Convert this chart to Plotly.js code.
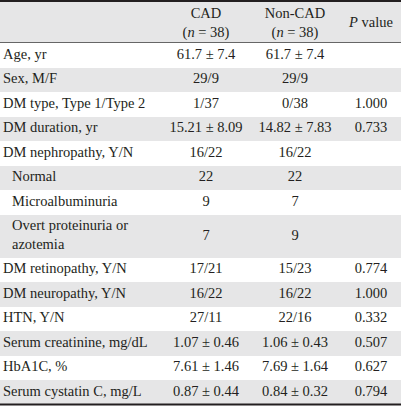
<!DOCTYPE html>
<html>
<head>
<meta charset="utf-8">
<script src="https://cdn.plot.ly/plotly-3.0.1.min.js"></script>
<style>html,body{margin:0;padding:0;background:#fff;}#chart{width:401px;height:407px;}</style>
</head>
<body>
<div id="chart"></div>
<script>
// ---- data ----
var headers = ['CAD<br>(<i>n</i> = 38)', 'Non-CAD<br>(<i>n</i> = 38)', '<i>P</i> value'];
var variables = ['Age, yr', 'Sex, M/F', 'DM type, Type 1/Type 2', 'DM duration, yr', 'DM nephropathy, Y/N',
  'Normal', 'Microalbuminuria', 'Overt proteinuria or<br>azotemia',
  'DM retinopathy, Y/N', 'DM neuropathy, Y/N', 'HTN, Y/N', 'Serum creatinine, mg/dL', 'HbA1C, %', 'Serum cystatin C, mg/L'];
var level = [0, 0, 0, 0, 0, 1, 1, 1, 0, 0, 0, 0, 0, 0];
var cad = ['61.7 ± 7.4', '29/9', '1/37', '15.21 ± 8.09', '16/22', '22', '9', '7', '17/21', '16/22', '27/11', '1.07 ± 0.46', '7.61 ± 1.46', '0.87 ± 0.44'];
var nonCad = ['61.7 ± 7.4', '29/9', '0/38', '14.82 ± 7.83', '16/22', '22', '7', '9', '15/23', '16/22', '22/16', '1.06 ± 0.43', '7.69 ± 1.64', '0.84 ± 0.32'];
var pValues = ['', '', '1.000', '0.733', '', '', '', '', '0.774', '1.000', '0.332', '0.507', '0.627', '0.794'];

// ---- layout geometry (pixel-like axis units) ----
var W = 401, H = 407;
var HEADER_TOP = 2, HEADER_BOTTOM = 42.5, BODY_TOP = 43;
var ROW_H = 24.5, DOUBLE_ROW_H = 43;
var COL_X = [206, 295, 371];
var LEFT_X = 3, INDENT_X = 12;
var GRAY = '#e6e6e7', WHITE = '#ffffff', INK = '#231f20';
var font = {family: 'Liberation Serif, Times New Roman, serif', size: 14.5, color: INK};

var heights = variables.map(function (v) { return v.indexOf('<br>') >= 0 ? DOUBLE_ROW_H : ROW_H; });
var centers = [], tops = [];
var acc = BODY_TOP;
heights.forEach(function (h) { tops.push(acc); centers.push(acc + h / 2); acc += h; });
var BODY_BOTTOM = acc;

var traces = [];
// header background + row backgrounds as horizontal bars
var bgY = [(HEADER_TOP + HEADER_BOTTOM) / 2].concat(centers);
var bgW = [HEADER_BOTTOM - HEADER_TOP].concat(heights);
var bgC = [GRAY].concat(variables.map(function (v, i) { return i % 2 === 0 ? WHITE : GRAY; }));
traces.push({
  type: 'bar', orientation: 'h',
  y: bgY, x: bgY.map(function () { return W; }), base: 0, width: bgW,
  marker: {color: bgC, line: {width: 0}},
  hoverinfo: 'skip', showlegend: false
});
// header texts
traces.push({
  type: 'scatter', mode: 'text',
  x: COL_X, y: headers.map(function () { return 23.5; }),
  text: headers, textposition: 'middle center', textfont: font,
  hoverinfo: 'skip', showlegend: false
});
// variable names
traces.push({
  type: 'scatter', mode: 'text',
  x: level.map(function (l) { return l ? INDENT_X : LEFT_X; }), y: centers,
  text: variables, textposition: 'middle right', textfont: font,
  hoverinfo: 'skip', showlegend: false
});
// value columns
[cad, nonCad, pValues].forEach(function (col, j) {
  traces.push({
    type: 'scatter', mode: 'text',
    x: col.map(function () { return COL_X[j]; }), y: centers,
    text: col, textposition: 'middle center', textfont: font,
    hoverinfo: 'skip', showlegend: false
  });
});

var hidden = {visible: false, fixedrange: true};
var layout = {
  width: W, height: H,
  margin: {l: 0, r: 0, t: 0, b: 0, pad: 0},
  paper_bgcolor: '#fff', plot_bgcolor: '#fff',
  xaxis: Object.assign({range: [0, W]}, hidden),
  yaxis: Object.assign({range: [H, 0]}, hidden),
  bargap: 0,
  shapes: [
    {type: 'line', xref: 'x', yref: 'y', x0: 0, x1: W, y0: 1, y1: 1, line: {color: INK, width: 2}},
    {type: 'line', xref: 'x', yref: 'y', x0: 0, x1: W, y0: HEADER_BOTTOM, y1: HEADER_BOTTOM, line: {color: '#666', width: 1.2}},
    {type: 'line', xref: 'x', yref: 'y', x0: 0, x1: W, y0: BODY_BOTTOM, y1: BODY_BOTTOM, line: {color: INK, width: 2}}
  ]
};

Plotly.newPlot('chart', traces, layout, {displayModeBar: false, staticPlot: true});
</script>
</body>
</html>
